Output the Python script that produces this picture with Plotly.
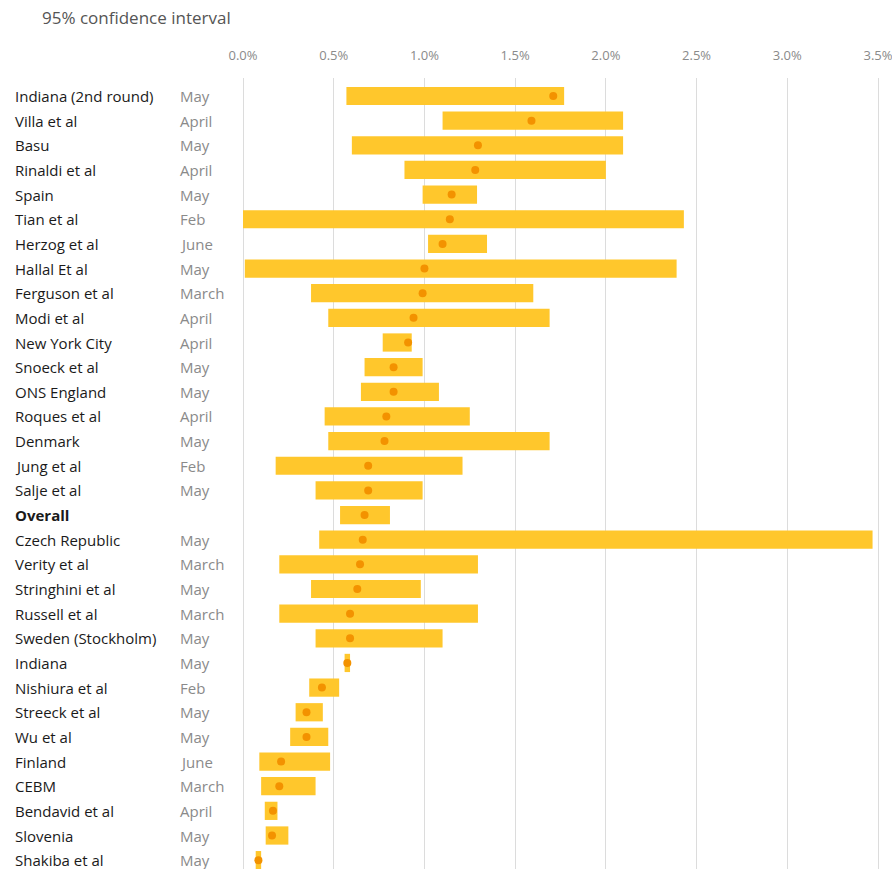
import plotly.graph_objects as go

studies = ["Indiana (2nd round)", "Villa et al", "Basu", "Rinaldi et al", "Spain", "Tian et al",
           "Herzog et al", "Hallal Et al", "Ferguson et al", "Modi et al", "New York City",
           "Snoeck et al", "ONS England", "Roques et al", "Denmark", "Jung et al", "Salje et al",
           "Overall", "Czech Republic", "Verity et al", "Stringhini et al", "Russell et al",
           "Sweden (Stockholm)", "Indiana", "Nishiura et al", "Streeck et al", "Wu et al",
           "Finland", "CEBM", "Bendavid et al", "Slovenia", "Shakiba et al"]
months = ["May", "April", "May", "April", "May", "Feb", "June", "May", "March", "April", "April",
          "May", "May", "April", "May", "Feb", "May", "", "May", "March", "May", "March",
          "May", "May", "Feb", "May", "May", "June", "March", "April", "May", "May"]
low = [0.57, 1.10, 0.60, 0.89, 0.99, 0.0, 1.02, 0.01, 0.375, 0.47, 0.77,
       0.67, 0.65, 0.45, 0.47, 0.18, 0.40, 0.535, 0.42, 0.20, 0.375, 0.20,
       0.40, 0.56, 0.365, 0.29, 0.26, 0.09, 0.10, 0.12, 0.125, 0.07]
high = [1.77, 2.095, 2.095, 2.00, 1.29, 2.43, 1.345, 2.39, 1.60, 1.69, 0.93,
        0.99, 1.08, 1.25, 1.69, 1.21, 0.99, 0.81, 3.47, 1.295, 0.98, 1.295,
        1.10, 0.59, 0.53, 0.44, 0.47, 0.48, 0.40, 0.19, 0.25, 0.10]
point = [1.71, 1.59, 1.295, 1.28, 1.15, 1.14, 1.10, 1.00, 0.99, 0.94, 0.91,
         0.83, 0.83, 0.79, 0.78, 0.69, 0.69, 0.67, 0.66, 0.645, 0.63, 0.59,
         0.59, 0.575, 0.435, 0.35, 0.35, 0.21, 0.20, 0.165, 0.16, 0.085]
tick_vals = [0.0, 0.5, 1.0, 1.5, 2.0, 2.5, 3.0, 3.5]
tick_text = ["0.0%", "0.5%", "1.0%", "1.5%", "2.0%", "2.5%", "3.0%", "3.5%"]

FONT = "Open Sans"
idx = list(range(len(studies)))

fig = go.Figure()
fig.add_trace(go.Bar(
    y=idx, x=[h - l for h, l in zip(high, low)], base=low, orientation="h",
    marker=dict(color="#FFC72C", line=dict(width=0)), width=0.74,
    hoverinfo="skip", showlegend=False))
fig.add_trace(go.Scatter(
    y=idx, x=point, mode="markers",
    marker=dict(color="#F39200", size=8), showlegend=False))

K = 635 / 3.5          # px per 1 percentage point
L, R = 239, 8
W = 892 - L - R
xmin = -(243 - L) / K
xmax = xmin + W / K

def px_to_paper(px):
    return (px - L) / W

annots = []
for i, (s, m) in enumerate(zip(studies, months)):
    annots.append(dict(x=px_to_paper(13), y=i, xref="paper", yref="y", xanchor="left",
                       yanchor="middle", showarrow=False,
                       text=f"<b>{s}</b>" if s == "Overall" else s,
                       font=dict(family=FONT, size=15, color="#1a1a1a")))
    if m:
        annots.append(dict(x=px_to_paper(178), y=i, xref="paper", yref="y", xanchor="left",
                           yanchor="middle", showarrow=False, text=m,
                           font=dict(family=FONT, size=15, color="#8a8a8a")))
annots.append(dict(x=px_to_paper(40), y=1, xref="paper", yref="paper", yanchor="bottom",
                   xanchor="left", showarrow=False, text="95% confidence interval",
                   yshift=47, font=dict(family=FONT, size=17, color="#555555")))

fig.update_layout(
    width=892, height=869,
    margin=dict(l=L, r=R, t=78, b=0),
    paper_bgcolor="white", plot_bgcolor="white",
    font=dict(family=FONT),
    annotations=annots,
    xaxis=dict(side="top", range=[xmin, xmax], tickvals=tick_vals, ticktext=tick_text,
               showgrid=True, gridcolor="#dcdcdc", gridwidth=1, zeroline=False,
               showline=False, ticks="", ticklabelstandoff=14, ticklabeloverflow="allow",
               tickfont=dict(family=FONT, size=13, color="#8a8a8a")),
    yaxis=dict(range=[(869 - 96) / 24.65, -18 / 24.65], showticklabels=False,
               showgrid=False, zeroline=False, showline=False),
    bargap=0.25,
)
fig.write_html("out.html")
